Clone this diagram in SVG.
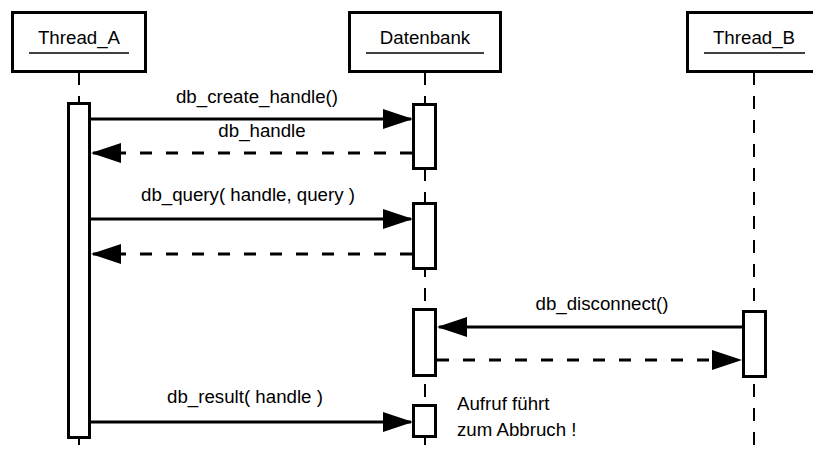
<svg xmlns="http://www.w3.org/2000/svg" width="813" height="449" viewBox="0 0 813 449">
<style>
  text { font-family: "Liberation Sans", Arial, Helvetica, sans-serif; font-size: 18.7px; fill: #000; }
  .lbl { text-anchor: middle; }
  .box { fill: #fff; stroke: #000; stroke-width: 3; }
  .ul { stroke: #000; stroke-width: 1.5; }
  .life { stroke: #000; stroke-width: 2; stroke-dasharray: 13 11; fill: none; }
  .bar { fill: #fff; stroke: #000; stroke-width: 3; }
  .msg { stroke: #000; stroke-width: 3; fill: none; marker-end: url(#head); }
  .ret { stroke-dasharray: 12 14; }
</style>
<defs>
  <marker id="head" markerUnits="userSpaceOnUse" markerWidth="32" markerHeight="22" viewBox="0 0 32 22" refX="29" refY="11" orient="auto">
    <path d="M1,1 L31,11 L1,21 Z" fill="#000" stroke="none"/>
  </marker>
</defs>
<rect width="813" height="449" fill="#fff"/>

<g id="lifelines">
  <line class="life" x1="79" y1="72" x2="79" y2="449"/>
  <line class="life" x1="425" y1="72" x2="425" y2="449"/>
  <line class="life" x1="754" y1="72" x2="754" y2="449"/>
</g>

<g id="Thread_A">
  <rect class="box" x="12.5" y="12.5" width="133" height="59"/>
  <text class="lbl" x="79" y="44">Thread_A</text>
  <line class="ul" x1="29" y1="53" x2="129" y2="53"/>
  <rect class="bar" x="68.5" y="103.5" width="21" height="334"/>
</g>

<g id="Datenbank">
  <rect class="box" x="349.5" y="12.5" width="151" height="59"/>
  <text class="lbl" x="425" y="44">Datenbank</text>
  <line class="ul" x1="366" y1="53" x2="484" y2="53"/>
  <rect class="bar" x="413.5" y="104.5" width="22" height="64"/>
  <rect class="bar" x="413.5" y="203.5" width="22" height="65"/>
  <rect class="bar" x="413.5" y="309.5" width="22" height="66"/>
  <rect class="bar" x="413.5" y="405.5" width="22" height="31"/>
</g>

<g id="Thread_B">
  <rect class="box" x="687.5" y="12.5" width="133" height="59"/>
  <text class="lbl" x="754" y="44">Thread_B</text>
  <line class="ul" x1="704" y1="53" x2="805" y2="53"/>
  <rect class="bar" x="743.5" y="311.5" width="22" height="65"/>
</g>

<g id="connectors">
  <line class="msg" x1="91" y1="119" x2="411" y2="119"/>
  <text class="lbl" x="257" y="103">db_create_handle()</text>
  <line class="msg ret" x1="412" y1="153" x2="93" y2="153"/>
  <text class="lbl" x="262" y="137">db_handle</text>
  <line class="msg" x1="91" y1="219" x2="411" y2="219"/>
  <text class="lbl" x="248" y="201">db_query( handle, query )</text>
  <line class="msg ret" x1="412" y1="254" x2="93" y2="254"/>
  <line class="msg" x1="742" y1="327" x2="439" y2="327"/>
  <text class="lbl" x="602" y="310">db_disconnect()</text>
  <line class="msg ret" x1="437" y1="360" x2="740" y2="360"/>
  <line class="msg" x1="91" y1="422" x2="411" y2="422"/>
  <text class="lbl" x="245" y="403">db_result( handle )</text>
</g>

<g id="note">
  <text x="457" y="410">Aufruf führt</text>
  <text x="457" y="436">zum Abbruch !</text>
</g>
</svg>
